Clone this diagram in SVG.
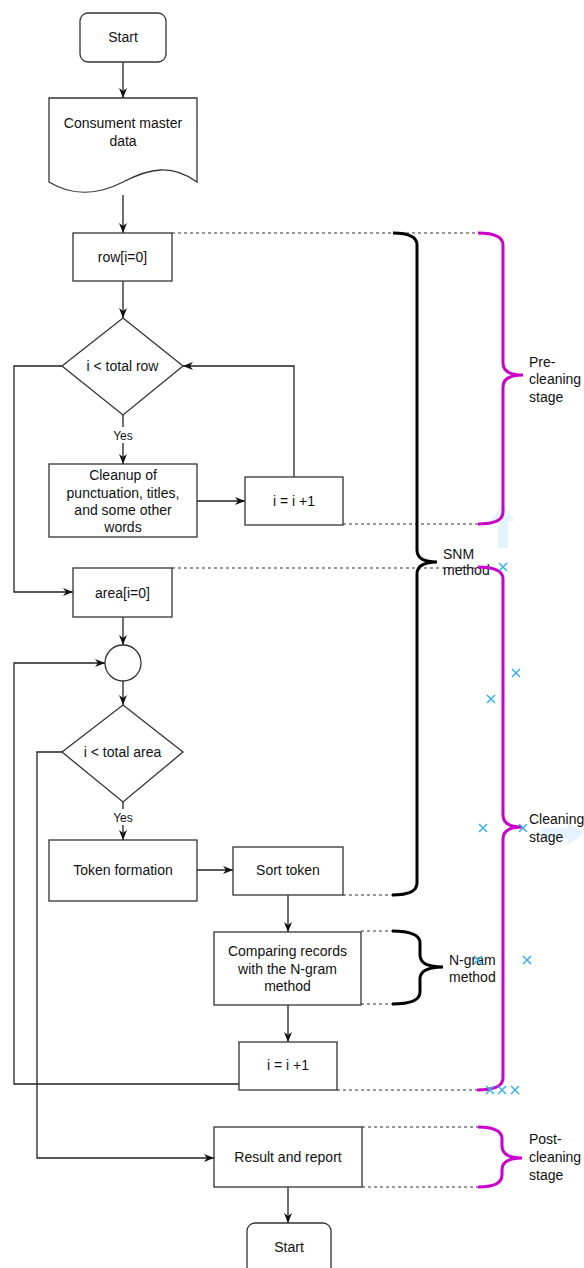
<svg xmlns="http://www.w3.org/2000/svg" width="584" height="1268" viewBox="0 0 584 1268">
<defs>
<marker id="arr" viewBox="0 0 10 8" refX="10" refY="4" markerWidth="10" markerHeight="8" markerUnits="userSpaceOnUse" orient="auto">
<path d="M0,0 L10,4 L0,8 L3,4 Z" fill="#111"/>
</marker>
<style>
.box{fill:#fff;stroke:#333;stroke-width:1.3}
.t{font-family:"Liberation Sans",Arial,sans-serif;font-size:14px;fill:#111;text-anchor:middle}
.s{font-family:"Liberation Sans",Arial,sans-serif;font-size:14px;fill:#111}
.y{font-family:"Liberation Sans",Arial,sans-serif;font-size:12px;fill:#111;text-anchor:middle}
.c{fill:none;stroke:#222;stroke-width:1.3}
.ca{fill:none;stroke:#222;stroke-width:1.3;marker-end:url(#arr)}
.d{fill:none;stroke:#333;stroke-width:1.1;stroke-dasharray:3 3}
.bb{fill:none;stroke:#000;stroke-width:3}
.mb{fill:none;stroke:#CC00CC;stroke-width:3}
.x{stroke:#36b0ea;stroke-width:1.5}
</style>
</defs>
<rect width="584" height="1268" fill="#fff"/>

<g id="guides">
<path class="d" d="M172,233 H478"/>
<path class="d" d="M343,524 H478"/>
<path class="d" d="M172,568 H478"/>
<path class="d" d="M343,895 H392"/>
<path class="d" d="M361,931 H392"/>
<path class="d" d="M361,1004 H392"/>
<path class="d" d="M337,1090 H477"/>
<path class="d" d="M362,1127 H478"/>
<path class="d" d="M362,1187 H478"/>
</g>

<g id="hints" opacity="0.75">
<polygon points="503,503 515,521 508,521 508,548 498,548 498,521 491,521" fill="#dcf0fb"/>
<polygon points="541,828 568,828 568,822 584,833 568,845 568,839 541,839" fill="#dcf0fb"/>
</g>

<g id="connectors">
<path class="ca" d="M123,62 V98"/>
<path class="ca" d="M123,195 V233"/>
<path class="ca" d="M123,281 V318"/>
<path class="ca" d="M123,415 V464"/>
<path class="ca" d="M197,501 H245"/>
<path class="ca" d="M294,477 V366 H183"/>
<path class="ca" d="M62,366 H14 V592 H73"/>
<path class="ca" d="M123,617 V645"/>
<path class="ca" d="M123,681 V705"/>
<path class="ca" d="M123,802 V840"/>
<path class="ca" d="M197,870 H233"/>
<path class="ca" d="M288,895 V932"/>
<path class="ca" d="M288,1005 V1042"/>
<path class="ca" d="M239,1084 H14 V663 H105"/>
<path class="ca" d="M62,752 H37 V1158 H214"/>
<path class="ca" d="M288,1187 V1223"/>
<rect x="110" y="427" width="26" height="16" fill="#fff"/>
<text class="y" x="123" y="439.5">Yes</text>
<rect x="110" y="809" width="26" height="16" fill="#fff"/>
<text class="y" x="123" y="821.5">Yes</text>
</g>

<g id="start">
<rect class="box" x="80" y="13" width="86" height="49" rx="8"/>
<text class="t" x="123" y="42">Start</text>
</g>
<g id="data">
<path class="box" d="M49,98 H197 V182 C172,164 150,168 123,182 C98,195 72,196 49,182 Z"/>
<text class="t" x="123" y="128">Consument master</text>
<text class="t" x="123" y="146">data</text>
</g>
<g id="row">
<rect class="box" x="73" y="233" width="99" height="48"/>
<text class="t" x="122.5" y="262">row[i=0]</text>
</g>
<g id="cond-row">
<polygon class="box" points="123,318 183,366 123,415 62,366"/>
<text class="t" x="122.5" y="371">i &lt; total row</text>
</g>
<g id="cleanup">
<rect class="box" x="49" y="464" width="148" height="73"/>
<text class="t" x="123" y="480">Cleanup of</text>
<text class="t" x="123" y="497.5">punctuation, titles,</text>
<text class="t" x="123" y="515">and some other</text>
<text class="t" x="123" y="532">words</text>
</g>
<g id="inc-row">
<rect class="box" x="245" y="477" width="98" height="48"/>
<text class="t" x="294" y="506">i = i +1</text>
</g>
<g id="area">
<rect class="box" x="73" y="568" width="99" height="49"/>
<text class="t" x="122.5" y="598">area[i=0]</text>
</g>
<g id="junction">
<circle class="box" cx="123" cy="663" r="18"/>
</g>
<g id="cond-area">
<polygon class="box" points="123,705 183,752 123,802 62,752"/>
<text class="t" x="122.5" y="757">i &lt; total area</text>
</g>
<g id="token">
<rect class="box" x="49" y="840" width="148" height="61"/>
<text class="t" x="123" y="875">Token formation</text>
</g>
<g id="sort">
<rect class="box" x="233" y="847" width="110" height="48"/>
<text class="t" x="288" y="875">Sort token</text>
</g>
<g id="compare">
<rect class="box" x="214" y="932" width="147" height="73"/>
<text class="t" x="287.5" y="956">Comparing records</text>
<text class="t" x="287.5" y="973.5">with the N-gram</text>
<text class="t" x="287.5" y="991">method</text>
</g>
<g id="inc-area">
<rect class="box" x="239" y="1042" width="98" height="48"/>
<text class="t" x="288" y="1070">i = i +1</text>
</g>
<g id="result">
<rect class="box" x="214" y="1127" width="148" height="60"/>
<text class="t" x="288" y="1162">Result and report</text>
</g>
<g id="end">
<rect class="box" x="247" y="1223" width="84" height="60" rx="8"/>
<text class="t" x="289" y="1252">Start</text>
</g>

<g id="snm-brace">
<path class="bb" d="M393,233 Q417,233 417,245 V550 Q417,562 437,562 Q417,562 417,574 V883 Q417,895 392,895"/>
<text class="s" x="443" y="559">SNM</text>
<text class="s" x="443" y="575">method</text>
</g>
<g id="ngram-brace">
<path class="bb" d="M392,931 Q420,931 420,943 V955 Q420,967 443,967 Q420,967 420,979 V992 Q420,1004 392,1004"/>
<text class="s" x="449" y="965">N-gram</text>
<text class="s" x="449" y="982">method</text>
</g>
<g id="pre-cleaning">
<path class="mb" d="M478,233 Q503,233 503,245 V363 Q503,375 523,375 Q503,375 503,387 V512 Q503,524 478,524"/>
<text class="s" x="529" y="367">Pre-</text>
<text class="s" x="529" y="384">cleaning</text>
<text class="s" x="529" y="402">stage</text>
</g>
<g id="cleaning">
<path class="mb" d="M478,567 Q503,567 503,579 V815 Q503,827 522,827 Q503,827 503,839 V1078 Q503,1090 477,1090"/>
<text class="s" x="529" y="824">Cleaning</text>
<text class="s" x="529" y="842">stage</text>
</g>
<g id="post-cleaning">
<path class="mb" d="M478,1127 Q502,1127 502,1139 V1146 Q502,1158 522,1158 Q502,1158 502,1170 V1175 Q502,1187 478,1187"/>
<text class="s" x="529" y="1144">Post-</text>
<text class="s" x="529" y="1162">cleaning</text>
<text class="s" x="529" y="1180">stage</text>
</g>

<g id="marks" class="x">
<path d="M499,563 l8,8 M507,563 l-8,8"/>
<path d="M512,669 l8,8 M520,669 l-8,8"/>
<path d="M487,695 l8,8 M495,695 l-8,8"/>
<path d="M479,824 l8,8 M487,824 l-8,8"/>
<path d="M519,824 l8,8 M527,824 l-8,8"/>
<path d="M474,956 l8,8 M482,956 l-8,8"/>
<path d="M523,956 l8,8 M531,956 l-8,8"/>
<path d="M486,1086 l8,8 M494,1086 l-8,8"/>
<path d="M498,1086 l8,8 M506,1086 l-8,8"/>
<path d="M511,1086 l8,8 M519,1086 l-8,8"/>
</g>
</svg>
